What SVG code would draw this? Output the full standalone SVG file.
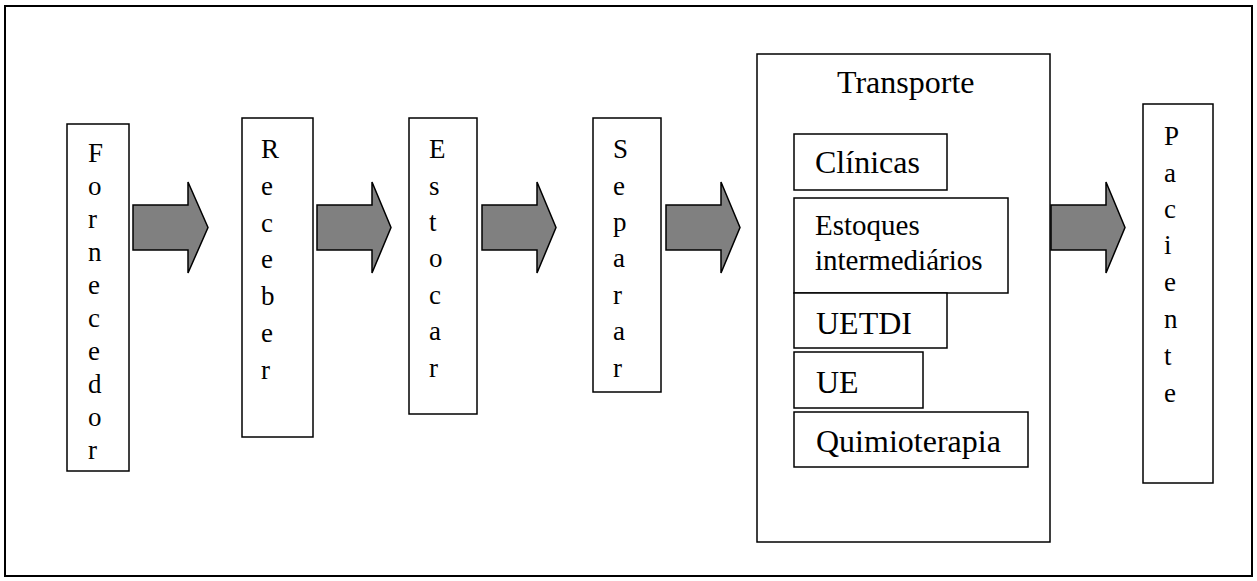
<svg xmlns="http://www.w3.org/2000/svg" width="1257" height="581" viewBox="0 0 1257 581">
<style>
.box{fill:#fff;stroke:#000;stroke-width:1.5}
.arrow{fill:#808080;stroke:#000;stroke-width:1.5;stroke-linejoin:miter}
.v{font-family:"Liberation Serif","Times New Roman",serif;font-size:27px;fill:#000}
.t{font-family:"Liberation Serif","Times New Roman",serif;font-size:32px;fill:#000}
.t2{font-family:"Liberation Serif","Times New Roman",serif;font-size:29px;fill:#000}
</style>
<rect x="5" y="6" width="1247" height="570" fill="#fff" stroke="#000" stroke-width="2"/>
<g id="connectors">
<path class="arrow" d="M133,205 H188 V182 L208,227.5 L188,273 V250 H133 Z"/>
<path class="arrow" d="M317,205 H372 V182 L391,227.5 L372,273 V250 H317 Z"/>
<path class="arrow" d="M482,205 H537 V182 L556,227.5 L537,273 V250 H482 Z"/>
<path class="arrow" d="M666,205 H721 V182 L740,227.5 L721,273 V250 H666 Z"/>
<path class="arrow" d="M1051,205 H1106 V182 L1125,227.5 L1106,273 V250 H1051 Z"/>
</g>
<g id="fornecedor">
<rect class="box" x="67" y="124" width="62" height="347"/>
<text class="v" x="88" y="162">F</text>
<text class="v" x="88" y="195">o</text>
<text class="v" x="88" y="228">r</text>
<text class="v" x="88" y="261">n</text>
<text class="v" x="88" y="294">e</text>
<text class="v" x="88" y="327">c</text>
<text class="v" x="88" y="360">e</text>
<text class="v" x="88" y="393">d</text>
<text class="v" x="88" y="426">o</text>
<text class="v" x="88" y="459">r</text>
</g>
<g id="receber">
<rect class="box" x="242" y="118" width="71" height="319"/>
<text class="v" x="261" y="158">R</text>
<text class="v" x="261" y="195">e</text>
<text class="v" x="261" y="232">c</text>
<text class="v" x="261" y="268">e</text>
<text class="v" x="261" y="305">b</text>
<text class="v" x="261" y="342">e</text>
<text class="v" x="261" y="379">r</text>
</g>
<g id="estocar">
<rect class="box" x="409" y="118" width="68" height="296"/>
<text class="v" x="429" y="158">E</text>
<text class="v" x="429" y="195">s</text>
<text class="v" x="429" y="231">t</text>
<text class="v" x="429" y="267">o</text>
<text class="v" x="429" y="304">c</text>
<text class="v" x="429" y="340">a</text>
<text class="v" x="429" y="377">r</text>
</g>
<g id="separar">
<rect class="box" x="593" y="118" width="68" height="274"/>
<text class="v" x="613" y="158">S</text>
<text class="v" x="613" y="195">e</text>
<text class="v" x="613" y="231">p</text>
<text class="v" x="613" y="267">a</text>
<text class="v" x="613" y="304">r</text>
<text class="v" x="613" y="340">a</text>
<text class="v" x="613" y="377">r</text>
</g>
<g id="transporte">
<rect class="box" x="757" y="54" width="293" height="488"/>
<text class="t" x="837" y="93">Transporte</text>
</g>
<g id="clinicas">
<rect class="box" x="794" y="134" width="153" height="56"/>
<text class="t" x="815" y="173">Clínicas</text>
</g>
<g id="estoques">
<rect class="box" x="794" y="198" width="214" height="95"/>
<text class="t2" x="815" y="235">Estoques</text>
<text class="t2" x="815" y="270">intermediários</text>
</g>
<g id="uetdi">
<rect class="box" x="794" y="293" width="153" height="55"/>
<text class="t" x="816" y="334">UETDI</text>
</g>
<g id="ue">
<rect class="box" x="794" y="352" width="129" height="56"/>
<text class="t" x="816" y="393">UE</text>
</g>
<g id="quimioterapia">
<rect class="box" x="794" y="412" width="234" height="55"/>
<text class="t" x="816" y="452">Quimioterapia</text>
</g>
<g id="paciente">
<rect class="box" x="1143" y="104" width="70" height="379"/>
<text class="v" x="1164" y="145">P</text>
<text class="v" x="1164" y="182">a</text>
<text class="v" x="1164" y="218">c</text>
<text class="v" x="1164" y="254">i</text>
<text class="v" x="1164" y="291">e</text>
<text class="v" x="1164" y="328">n</text>
<text class="v" x="1164" y="365">t</text>
<text class="v" x="1164" y="402">e</text>
</g>
</svg>
